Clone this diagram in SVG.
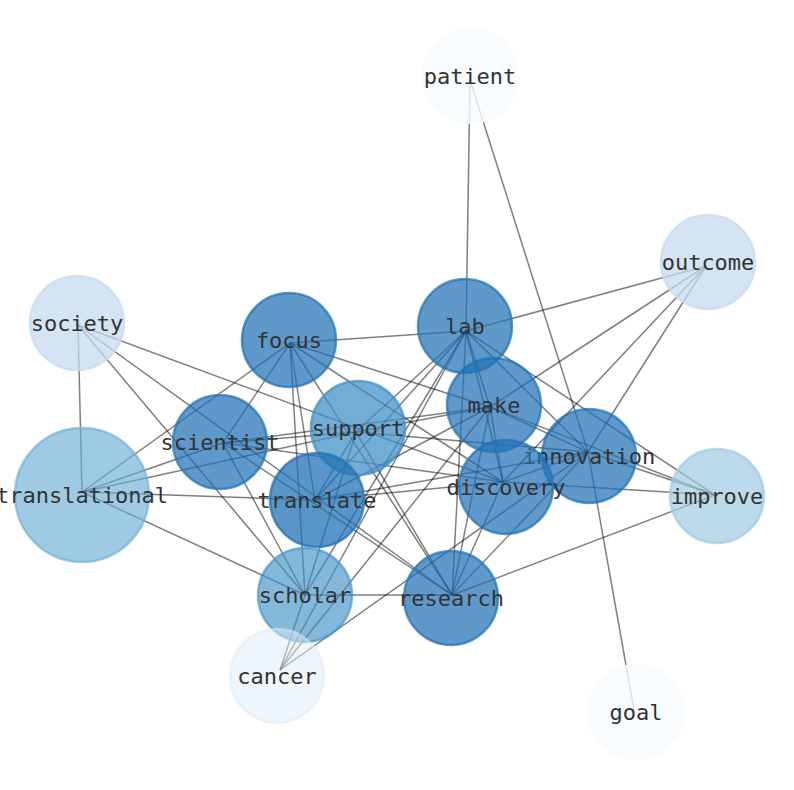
<svg xmlns="http://www.w3.org/2000/svg" width="794" height="790" viewBox="0 0 794 790">
<style>
.e{stroke:#000;stroke-opacity:0.5;stroke-width:1.5;fill:none}
.n{stroke-width:2.5}
.t{font-family:"DejaVu Sans Mono","Liberation Mono",monospace;font-size:22px;fill:#333;text-anchor:middle;dominant-baseline:central}
</style>
<rect width="794" height="790" fill="#fff"/>
<g id="edges" class="e">
<line x1="470" y1="80" x2="466" y2="331"/>
<line x1="470" y1="80" x2="588" y2="452"/>
<line x1="588" y1="452" x2="634" y2="710"/>
<line x1="706" y1="266" x2="466" y2="331"/>
<line x1="706" y1="266" x2="490" y2="407"/>
<line x1="706" y1="266" x2="503" y2="482"/>
<line x1="706" y1="266" x2="588" y2="452"/>
<line x1="715" y1="495" x2="466" y2="331"/>
<line x1="715" y1="495" x2="490" y2="407"/>
<line x1="715" y1="495" x2="588" y2="452"/>
<line x1="715" y1="495" x2="503" y2="482"/>
<line x1="715" y1="495" x2="452" y2="595"/>
<line x1="78" y1="325" x2="82" y2="492"/>
<line x1="78" y1="325" x2="503" y2="482"/>
<line x1="78" y1="325" x2="305" y2="595"/>
<line x1="78" y1="325" x2="452" y2="595"/>
<line x1="82" y1="492" x2="290" y2="343"/>
<line x1="82" y1="492" x2="223" y2="443"/>
<line x1="82" y1="492" x2="356" y2="432"/>
<line x1="82" y1="492" x2="315" y2="500"/>
<line x1="82" y1="492" x2="305" y2="595"/>
<line x1="290" y1="343" x2="466" y2="331"/>
<line x1="290" y1="343" x2="223" y2="443"/>
<line x1="290" y1="343" x2="315" y2="500"/>
<line x1="290" y1="343" x2="305" y2="595"/>
<line x1="290" y1="343" x2="452" y2="595"/>
<line x1="290" y1="343" x2="490" y2="407"/>
<line x1="290" y1="343" x2="503" y2="482"/>
<line x1="223" y1="443" x2="356" y2="432"/>
<line x1="223" y1="443" x2="490" y2="407"/>
<line x1="223" y1="443" x2="503" y2="482"/>
<line x1="223" y1="443" x2="452" y2="595"/>
<line x1="223" y1="443" x2="305" y2="595"/>
<line x1="356" y1="432" x2="466" y2="331"/>
<line x1="356" y1="432" x2="490" y2="407"/>
<line x1="356" y1="432" x2="315" y2="500"/>
<line x1="356" y1="432" x2="305" y2="595"/>
<line x1="356" y1="432" x2="452" y2="595"/>
<line x1="356" y1="432" x2="588" y2="452"/>
<line x1="466" y1="331" x2="490" y2="407"/>
<line x1="466" y1="331" x2="503" y2="482"/>
<line x1="466" y1="331" x2="588" y2="452"/>
<line x1="466" y1="331" x2="452" y2="595"/>
<line x1="466" y1="331" x2="315" y2="500"/>
<line x1="466" y1="331" x2="305" y2="595"/>
<line x1="490" y1="407" x2="503" y2="482"/>
<line x1="490" y1="407" x2="588" y2="452"/>
<line x1="490" y1="407" x2="452" y2="595"/>
<line x1="490" y1="407" x2="315" y2="500"/>
<line x1="503" y1="482" x2="588" y2="452"/>
<line x1="503" y1="482" x2="315" y2="500"/>
<line x1="503" y1="482" x2="452" y2="595"/>
<line x1="588" y1="452" x2="452" y2="595"/>
<line x1="588" y1="452" x2="315" y2="500"/>
<line x1="305" y1="595" x2="452" y2="595"/>
<line x1="280" y1="670" x2="305" y2="595"/>
<line x1="280" y1="670" x2="588" y2="452"/>
<line x1="280" y1="670" x2="466" y2="331"/>
<line x1="280" y1="670" x2="490" y2="407"/>
</g>
<g id="patient"><circle class="n" cx="470" cy="76" r="47" fill="#f7fbff" stroke="#f7fbff" fill-opacity="0.8" stroke-opacity="0.8"/><text class="t" x="470" y="76">patient</text></g>
<g id="outcome"><circle class="n" cx="708" cy="262" r="47" fill="#c6dbef" fill-opacity="0.75" stroke="#c6dbef" stroke-opacity="0.75"/><text class="t" x="708" y="262">outcome</text></g>
<g id="society"><circle class="n" cx="77" cy="323" r="47" fill="#c6dbef" fill-opacity="0.75" stroke="#c6dbef" stroke-opacity="0.75"/><text class="t" x="77" y="323">society</text></g>
<g id="focus"><circle class="n" cx="289" cy="340" r="47" fill="#2171b5" fill-opacity="0.72" stroke="#2171b5" stroke-opacity="0.72"/><text class="t" x="289" y="340">focus</text></g>
<g id="lab"><circle class="n" cx="465" cy="326" r="47" fill="#2171b5" fill-opacity="0.72" stroke="#2171b5" stroke-opacity="0.72"/><text class="t" x="465" y="326">lab</text></g>
<g id="make"><circle class="n" cx="494" cy="405" r="47" fill="#2171b5" fill-opacity="0.72" stroke="#2171b5" stroke-opacity="0.72"/><text class="t" x="494" y="405">make</text></g>
<g id="support"><circle class="n" cx="358" cy="428" r="47" fill="#4292c6" fill-opacity="0.75" stroke="#4292c6" stroke-opacity="0.75"/><text class="t" x="358" y="428">support</text></g>
<g id="scientist"><circle class="n" cx="220" cy="442" r="47" fill="#2171b5" fill-opacity="0.72" stroke="#2171b5" stroke-opacity="0.72"/><text class="t" x="220" y="442">scientist</text></g>
<g id="innovation"><circle class="n" cx="589" cy="456" r="47" fill="#2171b5" fill-opacity="0.72" stroke="#2171b5" stroke-opacity="0.72"/><text class="t" x="589" y="456">innovation</text></g>
<g id="improve"><circle class="n" cx="717" cy="496" r="47" fill="#9ecae1" fill-opacity="0.7" stroke="#9ecae1" stroke-opacity="0.7"/><text class="t" x="717" y="496">improve</text></g>
<g id="translational"><circle class="n" cx="82" cy="495" r="67" fill="#6baed6" fill-opacity="0.65" stroke="#6baed6" stroke-opacity="0.65"/><text class="t" x="82" y="495">translational</text></g>
<g id="translate"><circle class="n" cx="317" cy="500" r="47" fill="#2171b5" fill-opacity="0.75" stroke="#2171b5" stroke-opacity="0.75"/><text class="t" x="317" y="500">translate</text></g>
<g id="discovery"><circle class="n" cx="506" cy="487" r="47" fill="#2171b5" fill-opacity="0.72" stroke="#2171b5" stroke-opacity="0.72"/><text class="t" x="506" y="487">discovery</text></g>
<g id="scholar"><circle class="n" cx="305" cy="595" r="47" fill="#4292c6" fill-opacity="0.65" stroke="#4292c6" stroke-opacity="0.65"/><text class="t" x="305" y="595">scholar</text></g>
<g id="research"><circle class="n" cx="451" cy="598" r="47" fill="#2171b5" fill-opacity="0.72" stroke="#2171b5" stroke-opacity="0.72"/><text class="t" x="451" y="598">research</text></g>
<g id="cancer"><circle class="n" cx="277" cy="676" r="47" fill="#deebf7" fill-opacity="0.5" stroke="#deebf7" stroke-opacity="0.5"/><text class="t" x="277" y="676">cancer</text></g>
<g id="goal"><circle class="n" cx="636" cy="712" r="47" fill="#f7fbff" fill-opacity="0.8" stroke="#f7fbff" stroke-opacity="0.8"/><text class="t" x="636" y="712">goal</text></g>
</svg>
